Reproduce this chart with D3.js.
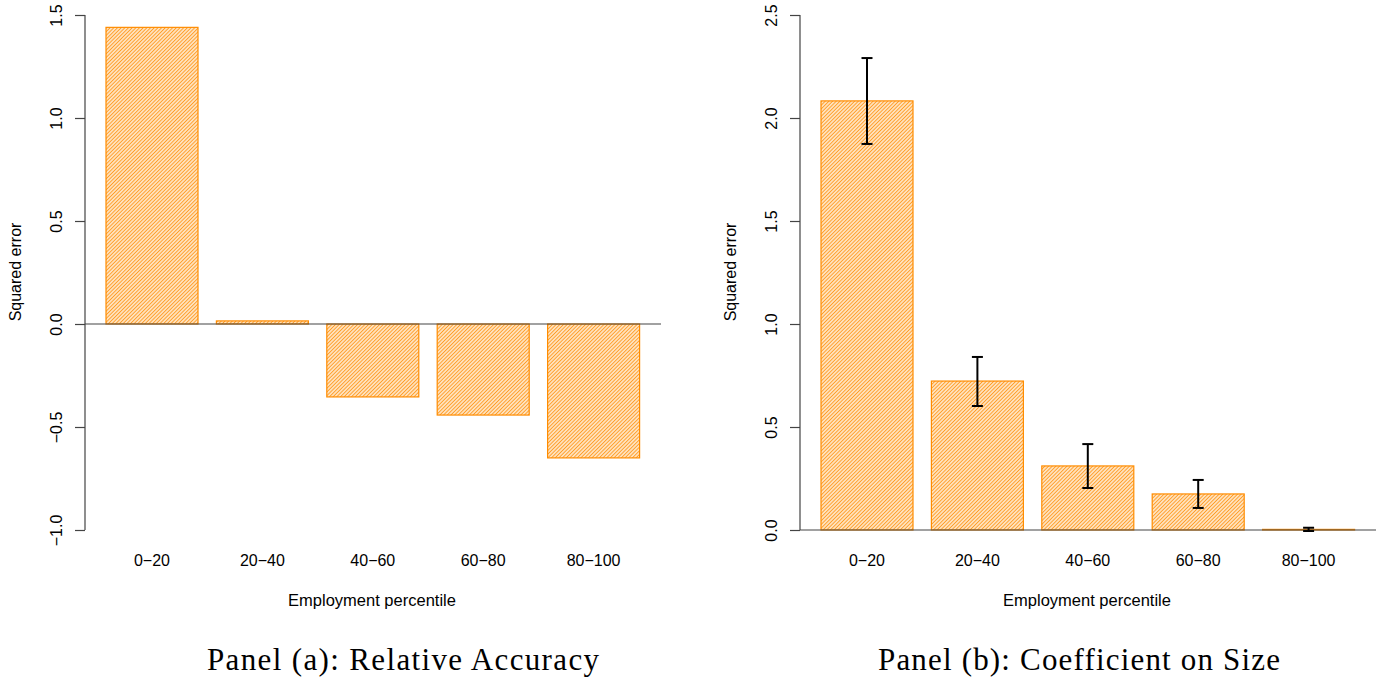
<!DOCTYPE html>
<html>
<head>
<meta charset="utf-8">
<script src="https://cdn.jsdelivr.net/npm/d3@7"></script>
<style>
  body { margin: 0; background: #fff; }
  text { font-family: "Liberation Sans", Arial, sans-serif; fill: #000; }
  .title { font-family: "Liberation Serif", "DejaVu Serif", serif; }
</style>
</head>
<body>
<svg id="chart" width="1387" height="683"></svg>
<script>
// data
var categories = ["0\u221220", "20\u221240", "40\u221260", "60\u221280", "80\u2212100"];
var accuracy = [1.44, 0.015, -0.354, -0.442, -0.65];
var coefSize = [2.083, 0.723, 0.311, 0.175, 0.003];
var coefLow = [1.874, 0.602, 0.204, 0.107, -0.005];
var coefHigh = [2.291, 0.840, 0.417, 0.243, 0.011];
var ticksA = [-1.0, -0.5, 0.0, 0.5, 1.0, 1.5];
var ticksB = [0.0, 0.5, 1.0, 1.5, 2.0, 2.5];

var svg = d3.select("#chart");
var orange = "#ff8c00";

// hatch fill
var defs = svg.append("defs");
var pat = defs.append("pattern")
	.attr("id", "hatch")
	.attr("patternUnits", "userSpaceOnUse")
	.attr("width", 2.6)
	.attr("height", 2.6)
	.attr("patternTransform", "rotate(45)");
pat.append("rect").attr("width", 2.6).attr("height", 2.6).attr("fill", "#fff");
pat.append("line")
	.attr("x1", 1.3).attr("y1", 0).attr("x2", 1.3).attr("y2", 2.6)
	.attr("stroke", orange)
	.attr("stroke-opacity", 0.85)
	.attr("stroke-width", 1.4);

function panel(opts) {
	var g = svg.append("g").attr("transform", "translate(" + opts.dx + ",0)");

	var x = d3.scaleBand()
		.domain(categories)
		.range([87.6, 658])
		.paddingInner(1 / 6)
		.paddingOuter(1 / 6);
	var y = d3.scaleLinear().domain(opts.domain).range([530, 15]);

	// bars
	g.selectAll(".bar")
		.data(opts.values)
		.enter()
		.append("rect")
			.attr("class", "bar")
			.attr("x", function(d, i) { return x(categories[i]); })
			.attr("width", x.bandwidth())
			.attr("y", function(d) { return y(Math.max(0, d)); })
			.attr("height", function(d) { return Math.abs(y(d) - y(0)); })
			.attr("fill", "url(#hatch)")
			.attr("stroke", orange)
			.attr("stroke-width", 1.2);

	// zero line across the plot region
	g.append("line")
		.attr("x1", 85).attr("x2", 661)
		.attr("y1", y(0)).attr("y2", y(0))
		.attr("stroke", "#444")
		.attr("stroke-width", 1.2);

	// error bars
	if (opts.low) {
		var eb = g.selectAll(".err")
			.data(opts.values)
			.enter()
			.append("g")
				.attr("class", "err")
				.attr("stroke", "#000")
				.attr("stroke-width", 2);
		eb.append("line")
			.attr("x1", function(d, i) { return x(categories[i]) + x.bandwidth() / 2; })
			.attr("x2", function(d, i) { return x(categories[i]) + x.bandwidth() / 2; })
			.attr("y1", function(d, i) { return y(opts.low[i]); })
			.attr("y2", function(d, i) { return y(opts.high[i]); });
		[opts.low, opts.high].forEach(function(arr) {
			eb.append("line")
				.attr("x1", function(d, i) { return x(categories[i]) + x.bandwidth() / 2 - 5.5; })
				.attr("x2", function(d, i) { return x(categories[i]) + x.bandwidth() / 2 + 5.5; })
				.attr("y1", function(d, i) { return y(arr[i]); })
				.attr("y2", function(d, i) { return y(arr[i]); });
		});
	}

	// y axis
	var ax = g.append("g")
		.attr("transform", "translate(85,0)")
		.call(d3.axisLeft(y).tickValues(opts.ticks).tickSize(10).tickFormat(d3.format(".1f")));
	ax.select(".domain").attr("stroke", "#444").attr("stroke-width", 1.2)
		.attr("d", "M0," + y(opts.ticks[0]) + "V" + y(opts.ticks[opts.ticks.length - 1]));
	ax.selectAll(".tick line").attr("stroke", "#444").attr("stroke-width", 1.2);
	ax.selectAll(".tick text")
		.attr("font-size", 16)
		.attr("font-family", "Liberation Sans, Arial, sans-serif")
		.attr("fill", "#000")
		.attr("x", null).attr("dy", null)
		.attr("text-anchor", "middle")
		.attr("transform", "translate(-23,0) rotate(-90)")
		.text(function(d) { return d3.format(".1f")(d).replace("-", "\u2212"); });

	// category labels
	g.selectAll(".cat")
		.data(categories)
		.enter()
		.append("text")
			.attr("class", "cat")
			.attr("x", function(d) { return x(d) + x.bandwidth() / 2; })
			.attr("y", 566)
			.attr("text-anchor", "middle")
			.attr("font-size", 16)
			.text(function(d) { return d; });

	g.append("text")
		.attr("x", 372).attr("y", 606)
		.attr("text-anchor", "middle")
		.attr("font-size", 16.5)
		.text("Employment percentile");

	g.append("text")
		.attr("transform", "translate(21,272) rotate(-90)")
		.attr("text-anchor", "middle")
		.attr("font-size", 16)
		.text("Squared error");

	g.append("text")
		.attr("class", "title")
		.attr("x", opts.titleX).attr("y", 670)
		.attr("text-anchor", "middle")
		.attr("font-size", 31)
		.attr("textLength", opts.titleW)
		.attr("lengthAdjust", "spacing")
		.text(opts.title);
}

panel({dx: 0, values: accuracy, domain: [-1, 1.5], ticks: ticksA,
	title: "Panel (a): Relative Accuracy", titleX: 403, titleW: 392});
panel({dx: 715, values: coefSize, low: coefLow, high: coefHigh, domain: [0, 2.5], ticks: ticksB,
	title: "Panel (b): Coefficient on Size", titleX: 364, titleW: 402});
</script>
</body>
</html>
